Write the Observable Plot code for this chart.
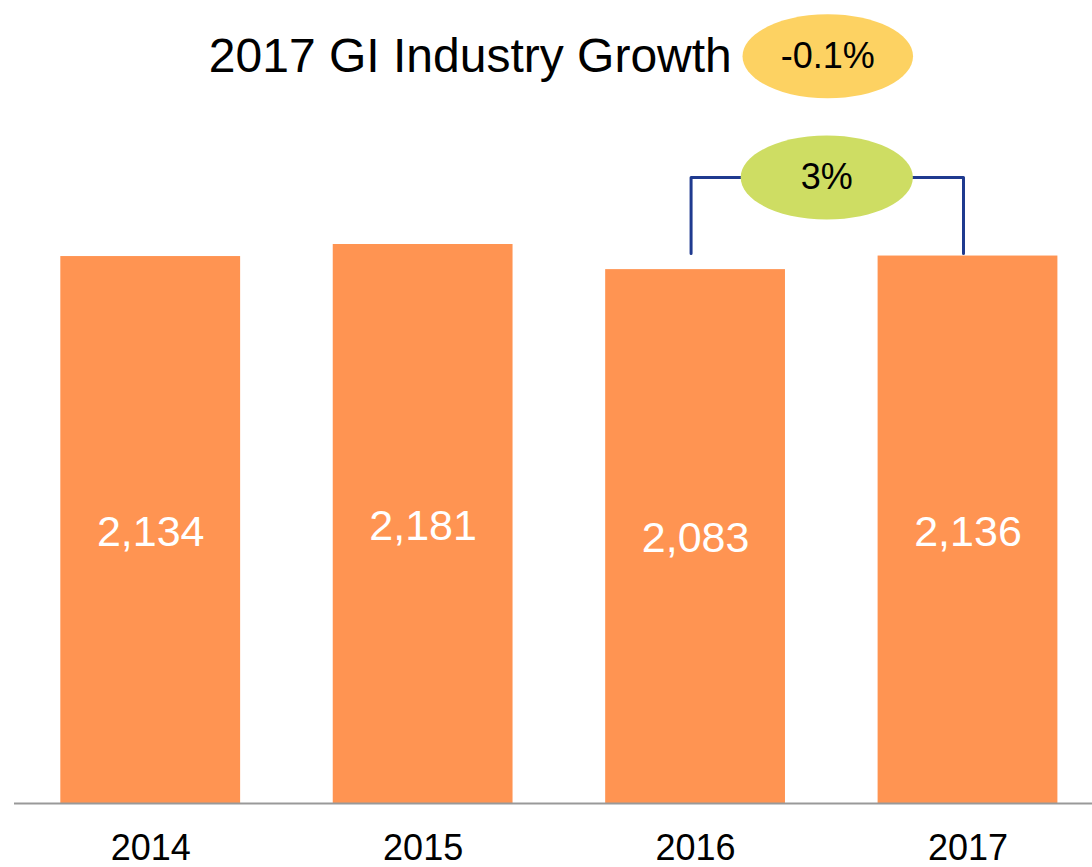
<!DOCTYPE html>
<html>
<head>
<meta charset="utf-8">
<script src="https://cdn.jsdelivr.net/npm/d3@7"></script>
<script src="https://cdn.jsdelivr.net/npm/@observablehq/plot@0.6"></script>
<style>
  html, body { margin: 0; padding: 0; background: #fff; }
  svg { display: block; font-family: "Liberation Sans", Arial, sans-serif; }
</style>
</head>
<body>
<div id="chart"></div>
<script>
// ---- data ----
const years = [2014, 2015, 2016, 2017];
const values = [2134, 2181, 2083, 2136];
const titleText = "2017 GI Industry Growth";
const industryGrowth = "-0.1%";
const yoyGrowth = "3%";            // 2016 -> 2017
const bracketYears = [2016, 2017];
const bracketLevels = [2146, 2442]; // bottom and top of the bracket (data units)
const titleLevel = 2915;

const data = years.map((year, i) => ({year, value: values[i]}));
const fmt = d3.format(",");

// ellipse symbol (width/height ratio)
const ellipse = ratio => ({
  draw(ctx, size) {
    const r = Math.sqrt(size / Math.PI), rx = r * ratio, ry = r, k = 0.5522847;
    ctx.moveTo(rx, 0);
    ctx.bezierCurveTo(rx, ry * k, rx * k, ry, 0, ry);
    ctx.bezierCurveTo(-rx * k, ry, -rx, ry * k, -rx, 0);
    ctx.bezierCurveTo(-rx, -ry * k, -rx * k, -ry, 0, -ry);
    ctx.bezierCurveTo(rx * k, -ry, rx, -ry * k, rx, 0);
    ctx.closePath();
  }
});

const [b0, b1] = bracketYears;
const [lo, hi] = bracketLevels;
const mid = (b0 + b1) / 2;
const bracket = [
  {year: b0, v: lo}, {year: b0, v: hi}, {year: b1, v: hi}, {year: b1, v: lo}
];

const chart = Plot.plot({
  width: 1092,
  height: 867,
  marginLeft: 14,
  marginRight: 0,
  marginTop: 0,
  marginBottom: 64,
  x: {domain: [2013.5, 2017.457], axis: null},
  y: {domain: [0, 3133], axis: null},
  style: {fontFamily: '"Liberation Sans", Arial, sans-serif', background: "#fff"},
  marks: [
    Plot.rectY(data, {x1: d => d.year - 0.33, x2: d => d.year + 0.33, y: "value", fill: "#FF9452"}),
    Plot.ruleY([0], {stroke: "#999999", strokeWidth: 2}),
    Plot.text(data, {x: "year", y: d => d.value / 2, text: d => fmt(d.value), fill: "white", fontSize: 43, lineAnchor: "middle", dy: 2}),
    Plot.text(data, {x: "year", y: 0, text: d => String(d.year), fill: "black", fontSize: 36, lineAnchor: "middle", dy: 45}),
    // bracket between 2016 and 2017
    Plot.line(bracket, {x: "year", y: "v", stroke: "#1F3A8F", strokeWidth: 3, dx: -4.5, curve: "linear"}),
    Plot.dot([{x: mid, y: hi}], {x: "x", y: "y", r: 42, symbol: ellipse(2.05), fill: "#CEDD63", stroke: "none", dx: -5}),
    Plot.text([{x: mid, y: hi, t: yoyGrowth}], {x: "x", y: "y", text: "t", fontSize: 36, fill: "black", lineAnchor: "middle", dx: -5}),
    // title with industry growth bubble
    Plot.text([{x: mid, y: titleLevel, t: titleText}], {x: "x", y: "y", text: "t", fontSize: 48, fill: "black", textAnchor: "end", lineAnchor: "middle", dx: -100}),
    Plot.dot([{x: mid, y: titleLevel}], {x: "x", y: "y", r: 42, symbol: ellipse(2.03), fill: "#FDD262", stroke: "none", dx: -4}),
    Plot.text([{x: mid, y: titleLevel, t: industryGrowth}], {x: "x", y: "y", text: "t", fontSize: 36, fill: "black", lineAnchor: "middle", dx: -4})
  ]
});

document.getElementById("chart").append(chart);
</script>
</body>
</html>
